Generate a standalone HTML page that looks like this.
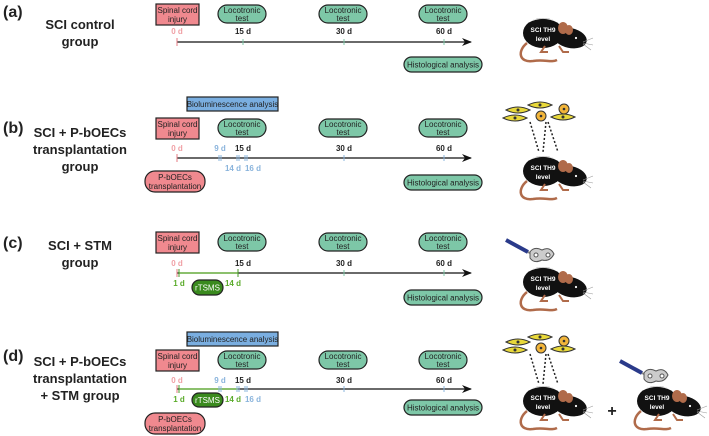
<!DOCTYPE html>
<html><head><meta charset="utf-8"><style>
body{margin:0;background:#fff}
svg{display:block;font-family:"Liberation Sans",Arial,sans-serif}
.lab{font-size:16px;font-weight:bold;fill:#222}
.grp{font-size:13px;font-weight:bold;fill:#222;text-anchor:middle}
.bx{font-size:8px;fill:#222;text-anchor:middle}
.d{font-size:8px;font-weight:bold;text-anchor:middle}
</style></head><body>
<svg width="709" height="436" viewBox="0 0 709 436">
<defs>
<marker id="ar" markerWidth="10" markerHeight="8" refX="9" refY="4" orient="auto" markerUnits="userSpaceOnUse"><path d="M0,0 L10,4 L0,8 L3,4z" fill="#111"/></marker>
<g id="loc">
<rect x="-24" y="0" width="48" height="18" rx="9" fill="#7dc7a7" stroke="#222" stroke-width="1.2"/>
<text class="bx" x="0" y="8">Locotronic</text><text class="bx" x="0" y="16">test</text>
</g>
<g id="sci">
<rect x="0" y="0" width="43" height="21" fill="#f0898f" stroke="#222" stroke-width="1.2"/>
<text class="bx" x="21.5" y="9">Spinal cord</text><text class="bx" x="21.5" y="18">injury</text>
</g>
<g id="hist">
<rect x="0" y="0" width="78" height="15" rx="7.5" fill="#7dc7a7" stroke="#222" stroke-width="1.2"/>
<text class="bx" x="39" y="10.5">Histological analysis</text>
</g>
<g id="mouse">
<path d="M-16,10 C-26,18 -24,30 -10,28 C2,26 8,30 14,27" fill="none" stroke="#b06b4a" stroke-width="2.5"/>
<ellipse cx="0" cy="0" rx="20" ry="15" fill="#111"/>
<ellipse cx="27" cy="5" rx="17" ry="10" fill="#111" transform="rotate(12 27 5)"/>
<ellipse cx="20" cy="-5" rx="5" ry="6" fill="#b06b4a"/>
<ellipse cx="26" cy="-3" rx="4" ry="5" fill="#b06b4a"/>
<path d="M2,13 l-4,6 h7 M16,13 l4,6 h6" stroke="#b06b4a" stroke-width="2" fill="none"/>
<circle cx="33" cy="5" r="1.1" fill="#fff"/>
<path d="M40,9 l10,-4 M40,10 l10,2 M40,11 l8,6" stroke="#999" stroke-width="0.6"/>
<path d="M-14,-11 Q0,-18 14,-11" stroke="#fff" stroke-width="0.8" fill="none"/>
<text x="0" y="-1" font-size="6.5" font-weight="bold" fill="#fff" text-anchor="middle">SCI TH9</text>
<text x="0" y="8" font-size="6.5" font-weight="bold" fill="#fff" text-anchor="middle">level</text>
</g>
<g id="cell">
<path d="M-12,0 Q0,-6 12,0 Q0,6 -12,0z" fill="#e8d83a" stroke="#333" stroke-width="1"/>
<circle cx="0" cy="0" r="1.5" fill="#333"/>
</g>
<g id="rcell"><circle r="5" fill="#f2b53a" stroke="#333" stroke-width="1"/><circle r="1.3" fill="#333"/></g>
<g id="cells">
<use href="#cell" x="-32" y="-12"/><use href="#cell" x="-10" y="-17"/><use href="#cell" x="-35" y="-4"/><use href="#cell" x="13" y="-5"/>
<use href="#rcell" x="-9" y="-6"/><use href="#rcell" x="14" y="-13"/>
<path d="M-20,0 L-11,30 M-4,0 L-7,30 M-2,0 L8,30" stroke="#222" stroke-width="1.5" stroke-dasharray="2,2" fill="none"/>
</g>
<g id="stim">
<path d="M-30,-22 L-8,-10" stroke="#2a3a8a" stroke-width="4"/>
<path d="M-8,-10 L0,-6" stroke="#888" stroke-width="2"/>
<path d="M-6,-10 Q-2,-16 6,-12 Q14,-16 18,-8 Q14,0 6,-2 Q-2,2 -6,-4z" fill="#ccc" stroke="#555"/>
<circle cx="0" cy="-7" r="2" fill="#fff" stroke="#555"/><circle cx="12" cy="-7" r="2" fill="#fff" stroke="#555"/>
</g>
</defs>

<!-- (a) -->
<text class="lab" x="3" y="17">(a)</text>
<text class="grp" x="80" y="29">SCI control</text><text class="grp" x="80" y="46">group</text>
<use href="#sci" x="156" y="4"/>
<use href="#loc" x="242" y="5"/><use href="#loc" x="343" y="5"/><use href="#loc" x="443" y="5"/>
<text class="d" x="177" y="34" fill="#f0a0a5">0 d</text>
<text class="d" x="243" y="34" fill="#222">15 d</text><text class="d" x="344" y="34" fill="#222">30 d</text><text class="d" x="444" y="34" fill="#222">60 d</text>
<line x1="177" y1="42" x2="471" y2="42" stroke="#111" stroke-width="1.3" marker-end="url(#ar)"/>
<line x1="177" y1="38" x2="177" y2="46" stroke="#e57a80"/>
<path d="M243,39v6M344,39v6M444,39v6" stroke="#7dc7a7"/>
<use href="#hist" x="404" y="57"/>
<use href="#mouse" x="543" y="33"/>

<!-- (b) -->
<text class="lab" x="3" y="133">(b)</text>
<text class="grp" x="80" y="137">SCI + P-bOECs</text><text class="grp" x="80" y="154">transplantation</text><text class="grp" x="80" y="171">group</text>
<rect x="187" y="97" width="91" height="14" fill="#7aaee0" stroke="#222" stroke-width="1.2"/>
<text class="bx" x="232.5" y="107">Bioluminescence analysis</text>
<use href="#sci" x="156" y="118"/>
<use href="#loc" x="242" y="119"/><use href="#loc" x="343" y="119"/><use href="#loc" x="443" y="119"/>
<text class="d" x="177" y="151" fill="#f0a0a5">0 d</text>
<text class="d" x="220" y="151" fill="#8ab4dc">9 d</text>
<text class="d" x="243" y="151" fill="#222">15 d</text><text class="d" x="344" y="151" fill="#222">30 d</text><text class="d" x="444" y="151" fill="#222">60 d</text>
<line x1="177" y1="158" x2="471" y2="158" stroke="#111" stroke-width="1.3" marker-end="url(#ar)"/>
<line x1="177" y1="154" x2="177" y2="162" stroke="#e57a80"/>
<path d="M219,155v6M221,155v6M237,155v6M239,155v6M245,155v6M247,155v6M344,155v6M444,155v6" stroke="#8ab4dc"/>
<text class="d" x="233" y="171" fill="#8ab4dc">14 d</text><text class="d" x="253" y="171" fill="#8ab4dc">16 d</text>
<rect x="145" y="171" width="60" height="21" rx="10" fill="#f0898f" stroke="#222" stroke-width="1.2"/>
<text class="bx" x="175" y="180">P-bOECs</text><text class="bx" x="175" y="189">transplantation</text>
<use href="#hist" x="404" y="175"/>
<use href="#cells" x="550" y="122"/>
<use href="#mouse" x="543" y="171"/>

<!-- (c) -->
<text class="lab" x="3" y="248">(c)</text>
<text class="grp" x="80" y="250">SCI + STM</text><text class="grp" x="80" y="267">group</text>
<use href="#sci" x="156" y="232"/>
<use href="#loc" x="242" y="233"/><use href="#loc" x="343" y="233"/><use href="#loc" x="443" y="233"/>
<text class="d" x="177" y="266" fill="#f0a0a5">0 d</text>
<text class="d" x="243" y="266" fill="#222">15 d</text><text class="d" x="344" y="266" fill="#222">30 d</text><text class="d" x="444" y="266" fill="#222">60 d</text>
<line x1="177" y1="273" x2="471" y2="273" stroke="#111" stroke-width="1.3" marker-end="url(#ar)"/>
<line x1="179" y1="273" x2="238" y2="273" stroke="#6bbf3a" stroke-width="1.3"/>
<line x1="177" y1="269" x2="177" y2="277" stroke="#e57a80"/>
<path d="M179,269v8M238,269v8" stroke="#4a9a2a"/>
<path d="M344,270v6M444,270v6" stroke="#7dc7a7"/>
<text class="d" x="179" y="286" fill="#5aab2a">1 d</text><text class="d" x="233" y="286" fill="#5aab2a">14 d</text>
<rect x="192" y="280" width="31" height="15" rx="7.5" fill="#3a8a1e" stroke="#222" stroke-width="1.2"/>
<text class="bx" x="207.5" y="290.5" style="fill:#fff">rTSMS</text>
<use href="#hist" x="404" y="290"/>
<use href="#stim" x="536" y="262"/>
<use href="#mouse" x="543" y="282"/>

<!-- (d) -->
<text class="lab" x="3" y="361">(d)</text>
<text class="grp" x="80" y="366">SCI + P-bOECs</text><text class="grp" x="80" y="383">transplantation</text><text class="grp" x="80" y="400">+ STM group</text>
<rect x="187" y="332" width="91" height="14" fill="#7aaee0" stroke="#222" stroke-width="1.2"/>
<text class="bx" x="232.5" y="342">Bioluminescence analysis</text>
<use href="#sci" x="156" y="350"/>
<use href="#loc" x="242" y="351"/><use href="#loc" x="343" y="351"/><use href="#loc" x="443" y="351"/>
<text class="d" x="177" y="383" fill="#f0a0a5">0 d</text>
<text class="d" x="220" y="383" fill="#8ab4dc">9 d</text>
<text class="d" x="243" y="383" fill="#222">15 d</text><text class="d" x="344" y="383" fill="#222">30 d</text><text class="d" x="444" y="383" fill="#222">60 d</text>
<line x1="177" y1="389" x2="471" y2="389" stroke="#111" stroke-width="1.3" marker-end="url(#ar)"/>
<line x1="179" y1="389" x2="238" y2="389" stroke="#6bbf3a" stroke-width="1.3"/>
<line x1="177" y1="385" x2="177" y2="393" stroke="#e57a80"/>
<path d="M179,385v8" stroke="#4a9a2a"/>
<path d="M219,386v6M221,386v6M237,386v6M239,386v6M245,386v6M247,386v6M344,386v6M444,386v6" stroke="#8ab4dc"/>
<text class="d" x="179" y="402" fill="#5aab2a">1 d</text><text class="d" x="233" y="402" fill="#5aab2a">14 d</text><text class="d" x="253" y="402" fill="#8ab4dc">16 d</text>
<rect x="192" y="393" width="31" height="14" rx="7" fill="#3a8a1e" stroke="#222" stroke-width="1.2"/>
<text class="bx" x="207.5" y="403" style="fill:#fff">rTSMS</text>
<rect x="145" y="413" width="60" height="21" rx="10" fill="#f0898f" stroke="#222" stroke-width="1.2"/>
<text class="bx" x="175" y="422">P-bOECs</text><text class="bx" x="175" y="431">transplantation</text>
<use href="#hist" x="404" y="400"/>
<use href="#cells" x="550" y="354"/>
<use href="#mouse" x="543" y="401"/>
<text x="612" y="416" font-size="16" font-weight="bold" fill="#222" text-anchor="middle">+</text>
<use href="#stim" x="650" y="383"/>
<use href="#mouse" x="657" y="401"/>
</svg>
</body></html>
